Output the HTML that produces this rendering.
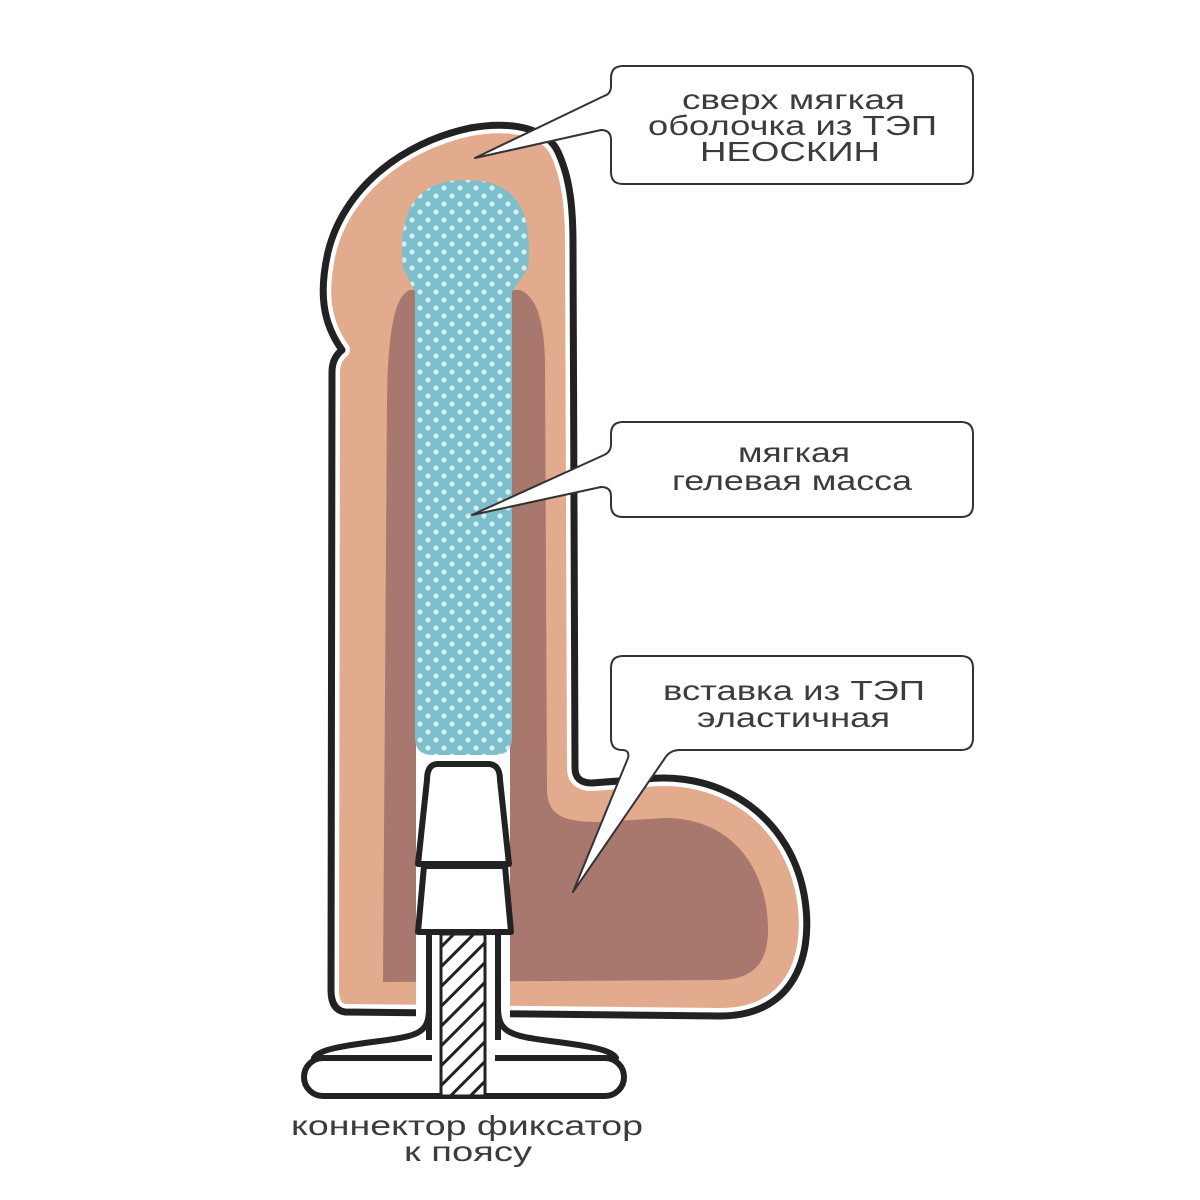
<!DOCTYPE html>
<html><head><meta charset="utf-8"><style>html,body{margin:0;padding:0;background:#fff}svg{display:block}</style></head>
<body>
<svg width="1200" height="1200" viewBox="0 0 1200 1200" xmlns="http://www.w3.org/2000/svg">
<defs>
<pattern id="dots" width="16" height="16" patternUnits="userSpaceOnUse">
<rect width="16" height="16" fill="#7cbfcb"/>
<circle cx="4" cy="4" r="2.6" fill="#d4ecf2"/>
<circle cx="12" cy="12" r="2.6" fill="#d4ecf2"/>
</pattern>
<pattern id="hatch" width="14" height="14" patternUnits="userSpaceOnUse" patternTransform="rotate(-45)">
<rect width="14" height="14" fill="#fff"/>
<rect x="0" y="0" width="14" height="3" fill="#222"/>
</pattern>
</defs>
<path d="M 470 128 C 515 120 548 130 558 152 C 571 180 573 212 573 245 L 575 768 Q 575 783 592 783 L 645 779 C 725 770 793 820 805 900 C 814 962 790 1016 720 1016 L 345 1012 Q 331 1010 331 990 L 332 372 Q 332 358 342 350 C 322 322 319 292 328 252 C 343 190 400 143 470 128 Z" fill="#e3ab8e" stroke="#fff" stroke-width="16" stroke-linejoin="round"/>
<path d="M 470 128 C 515 120 548 130 558 152 C 571 180 573 212 573 245 L 575 768 Q 575 783 592 783 L 645 779 C 725 770 793 820 805 900 C 814 962 790 1016 720 1016 L 345 1012 Q 331 1010 331 990 L 332 372 Q 332 358 342 350 C 322 322 319 292 328 252 C 343 190 400 143 470 128 Z" fill="none" stroke="#222" stroke-width="7" stroke-linejoin="round"/>
<path d="M 347 1000 L 345 372 Q 345 360 352 352 C 336 322 334 292 342 258 C 356 200 408 155 470 142 C 512 135 540 143 548 160 C 558 185 560 215 560 245 L 562 770 Q 562 796 592 796 L 645 792 C 718 784 780 828 791 902 C 799 958 780 1002 720 1002 Z" fill="#e3ab8e"/>
<path d="M 383 982 L 387 400 C 388 330 395 295 410 290 L 520 290 C 536 296 544 320 545 360 L 547 790 C 548 815 562 822 600 822 L 665 818 C 733 818 768 870 768 930 C 768 966 750 980 718 980 Z" fill="#a8776e"/>
<!-- white cavity -->
<rect x="416" y="700" width="94" height="330" fill="#fff"/>
<!-- gel -->
<path d="M 415 292 L 403 268 C 397 205 420 180 466 180 C 512 180 534 205 528 268 L 512 292 L 512 738 Q 512 755 494 755 L 433 755 Q 415 755 415 738 Z" fill="url(#dots)"/>
<!-- connector -->
<g stroke-linejoin="round">
<path d="M 429 1008 C 429 1032 420 1036 380 1041 C 340 1046 318 1050 314 1058 L 616 1058 C 612 1050 590 1046 550 1041 C 510 1036 498 1032 498 1008 Z" fill="#fff" stroke="#222" stroke-width="6"/>
<rect x="304" y="1058" width="320" height="38" rx="19" fill="#fff" stroke="#222" stroke-width="6"/>
<rect x="432" y="932" width="63" height="130" fill="#fff"/>
<line x1="429" y1="932" x2="429" y2="1040" stroke="#222" stroke-width="6"/>
<line x1="498" y1="932" x2="498" y2="1040" stroke="#222" stroke-width="6"/>
<rect x="441" y="934" width="44" height="162" fill="url(#hatch)" stroke="#222" stroke-width="3"/>
<path d="M 418 932 L 424 866 L 505 866 L 511 932 Z" fill="#fff" stroke="#222" stroke-width="6"/>
<path d="M 438 764 Q 427 764 427 780 L 418 864 L 509 864 L 500 780 Q 500 764 488 764 Z" fill="#fff" stroke="#222" stroke-width="6"/>
</g>
<g fill="#fff" stroke="#333" stroke-width="2" stroke-linejoin="round">
<path d="M 623 66 L 961 66 Q 973 66 973 78 L 973 172 Q 973 184 961 184 L 623 184 Q 611 184 611 172 L 611 140 Q 611 130 601 130 L 475 158 L 604 96 Q 611 94 611 86 L 611 78 Q 611 66 623 66 Z"/>
<path d="M 623 422 L 961 422 Q 973 422 973 434 L 973 505 Q 973 517 961 517 L 623 517 Q 611 517 611 505 L 611 496 Q 611 487 601 487 L 472 515 L 604 455 Q 611 452 611 444 L 611 434 Q 611 422 623 422 Z"/>
<path d="M 623 656 L 961 656 Q 973 656 973 668 L 973 738 Q 973 750 961 750 L 680 750 Q 670 750 665 758 L 573 892 L 628 758 Q 630 750 622 750 Q 611 750 611 738 L 611 668 Q 611 656 623 656 Z"/>
</g>
<g font-family="Liberation Sans, DejaVu Sans, sans-serif" font-size="28" fill="#3c3c3c">
<text x="682" y="109" textLength="223" lengthAdjust="spacingAndGlyphs">сверх мягкая</text>
<text x="648" y="135" textLength="289" lengthAdjust="spacingAndGlyphs">оболочка из ТЭП</text>
<text x="700" y="161" textLength="180" lengthAdjust="spacingAndGlyphs">НЕОСКИН</text>
<text x="738" y="462" textLength="112" lengthAdjust="spacingAndGlyphs">мягкая</text>
<text x="672" y="490" textLength="240" lengthAdjust="spacingAndGlyphs">гелевая масса</text>
<text x="663" y="700" textLength="262" lengthAdjust="spacingAndGlyphs">вставка из ТЭП</text>
<text x="697" y="727" textLength="193" lengthAdjust="spacingAndGlyphs">эластичная</text>
<text x="291" y="1135" textLength="352" lengthAdjust="spacingAndGlyphs">коннектор фиксатор</text>
<text x="404" y="1161" textLength="128" lengthAdjust="spacingAndGlyphs">к поясу</text>
</g>
</svg>
</body></html>
